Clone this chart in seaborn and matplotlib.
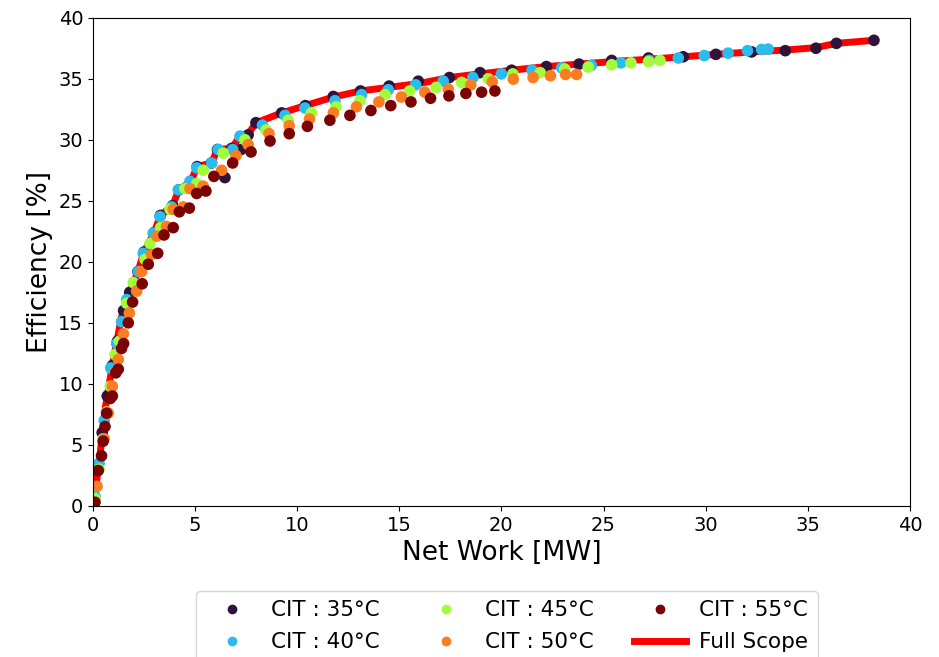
import matplotlib
matplotlib.use("Agg")
import matplotlib.pyplot as plt
import seaborn as sns
import pandas as pd
from matplotlib.lines import Line2D

# CIT 35 C
x35 = [0.05, 0.25, 0.45, 0.7, 0.95, 1.2, 1.5, 1.8, 2.2, 2.5, 3.0, 3.3, 3.9, 4.2, 4.8, 5.1,
       5.8, 6.1, 6.46, 6.8, 7.25, 7.6, 7.98, 9.24, 10.4, 11.77, 13.1, 14.5, 15.93, 17.45,
       18.95, 20.5, 22.2, 23.8, 25.4, 27.2, 28.9, 30.5, 32.25, 33.9, 35.4, 36.4, 38.24]
y35 = [0.5, 3.0, 6.0, 9.0, 11.5, 13.5, 16.0, 17.5, 19.2, 20.8, 22.4, 23.8, 24.6, 25.9, 26.6, 27.8,
       28.1, 29.2, 26.9, 29.3, 29.2, 30.4, 31.4, 32.2, 32.8, 33.55, 34.0, 34.4, 34.8, 35.1,
       35.5, 35.7, 36.0, 36.2, 36.5, 36.7, 36.8, 37.0, 37.2, 37.3, 37.5, 37.9, 38.15]
# CIT 40 C
x40 = [0.1, 0.3, 0.55, 0.87, 1.16, 1.4, 1.65, 2.22, 2.46, 2.95, 3.28, 3.85, 4.18, 4.75, 5.08,
       5.81, 6.13, 6.84, 7.2, 8.3, 9.4, 10.38, 11.85, 13.15, 14.46, 15.8, 17.15, 18.6, 20.0,
       21.5, 22.95, 24.4, 25.85, 27.24, 28.66, 29.93, 31.1, 32.05, 32.74, 33.06]
y40 = [0.8, 3.5, 7.0, 11.3, 13.3, 15.1, 16.9, 19.2, 20.7, 22.35, 23.7, 24.5, 25.9, 26.6, 27.7,
       28.1, 29.2, 29.2, 30.3, 31.2, 32.0, 32.6, 33.2, 33.7, 34.1, 34.5, 34.8, 35.1, 35.4,
       35.7, 35.9, 36.1, 36.3, 36.5, 36.7, 36.9, 37.1, 37.3, 37.4, 37.43]
# CIT 45 C
x45 = [0.1, 0.3, 0.5, 0.67, 0.85, 1.08, 1.3, 1.65, 1.97, 2.55, 2.79, 3.31, 3.77, 4.5, 5.08,
       5.4, 6.38, 7.44, 8.47, 9.56, 10.7, 11.9, 13.07, 14.3, 15.5, 16.8, 18.05, 19.35, 20.56,
       21.9, 23.1, 24.25, 25.4, 26.34, 27.2, 27.76]
y45 = [0.6, 3.0, 5.5, 7.7, 9.8, 12.4, 13.5, 16.6, 18.3, 20.2, 21.5, 22.8, 24.3, 26.0, 26.4,
       27.5, 28.9, 30.0, 30.8, 31.6, 32.2, 32.7, 33.2, 33.7, 34.0, 34.3, 34.7, 35.0, 35.4,
       35.5, 35.8, 35.96, 36.15, 36.3, 36.4, 36.5]
# CIT 50 C
x50 = [0.2, 0.55, 0.75, 0.95, 1.1, 1.24, 1.49, 1.78, 2.14, 2.38, 2.87, 3.12, 3.6, 3.93, 4.42,
       4.75, 5.4, 6.3, 7.0, 7.6, 8.62, 9.61, 10.6, 11.77, 12.9, 14.0, 15.1, 16.25, 17.4, 18.5,
       19.55, 20.58, 21.55, 22.4, 23.14, 23.68]
y50 = [1.6, 5.5, 7.6, 9.8, 11.0, 12.0, 14.1, 15.8, 17.6, 19.2, 20.6, 22.1, 22.9, 24.3, 24.5,
       26.0, 26.2, 27.5, 28.7, 29.6, 30.5, 31.15, 31.7, 32.2, 32.7, 33.1, 33.5, 33.9, 34.15, 34.5,
       34.75, 34.97, 35.1, 35.25, 35.35, 35.35]
# CIT 55 C
x55 = [0.1, 0.26, 0.42, 0.5, 0.59, 0.67, 0.85, 0.95, 1.12, 1.24, 1.4, 1.5, 1.73, 1.94, 2.41,
       2.71, 3.17, 3.48, 3.93, 4.23, 4.72, 5.08, 5.53, 5.92, 6.84, 7.74, 8.67, 9.61, 10.5, 11.6,
       12.58, 13.61, 14.58, 15.57, 16.53, 17.43, 18.26, 19.03, 19.68]
y55 = [0.3, 2.9, 4.1, 5.3, 6.5, 7.6, 8.8, 9.0, 10.9, 11.2, 12.9, 13.3, 15.0, 16.7, 18.2,
       19.8, 20.7, 22.2, 22.8, 24.1, 24.4, 25.6, 25.8, 27.0, 28.1, 29.0, 29.9, 30.5, 31.1, 31.6,
       32.0, 32.4, 32.8, 33.1, 33.4, 33.6, 33.8, 33.9, 34.0]
# Full Scope envelope
x_full = [0, 0.3, 0.6, 1.0, 1.4, 1.7, 2.2, 2.5, 3.0, 3.3, 3.9, 4.2, 4.8, 5.1, 5.8, 6.1, 6.8,
          7.2, 7.6, 8.0, 9.24, 10.4, 11.77, 13.1, 14.5, 15.93, 17.45, 18.95, 20.5, 22.2, 23.8,
          25.4, 27.2, 28.9, 30.5, 32.25, 33.9, 35.4, 36.4, 38.24]
y_full = [0, 3.5, 8.0, 12.0, 15.5, 17.0, 19.2, 20.8, 22.4, 23.8, 24.6, 25.9, 26.6, 27.8, 28.1,
          29.2, 29.3, 30.3, 30.5, 31.4, 32.2, 32.8, 33.5, 34.0, 34.3, 34.6, 35.1, 35.4, 35.7,
          36.0, 36.2, 36.4, 36.6, 36.8, 37.0, 37.2, 37.35, 37.55, 37.9, 38.15]

labels = ["CIT : 35°C", "CIT : 40°C", "CIT : 45°C", "CIT : 50°C", "CIT : 55°C"]
colors = ["#30123b", "#2abced", "#a2fc3c", "#fa7d22", "#7a0403"]
xs = [x35, x40, x45, x50, x55]
ys = [y35, y40, y45, y50, y55]

frames = []
for lab, x, y in zip(labels, xs, ys):
    frames.append(pd.DataFrame({"net_work": x, "eff": y, "cit": lab}))
df = pd.concat(frames, ignore_index=True)
full = pd.DataFrame({"net_work": x_full, "eff": y_full})

fig, ax = plt.subplots(figsize=(9.39, 6.57), dpi=100)
fig.subplots_adjust(left=0.099, right=0.969, top=0.973, bottom=0.230)

sns.lineplot(data=full, x="net_work", y="eff", color="red", linewidth=5, sort=False,
             ax=ax, zorder=1, legend=False)
sns.scatterplot(data=df, x="net_work", y="eff", hue="cit", palette=dict(zip(labels, colors)),
                s=70, linewidth=0, ax=ax, zorder=2, legend=False)

ax.set_xlim(0, 40)
ax.set_ylim(0, 40)
ax.set_xlabel("Net Work [MW]", fontsize=19)
ax.set_ylabel("Efficiency [%]", fontsize=19)
ax.tick_params(labelsize=14)

handles = [Line2D([], [], marker="o", linestyle="", color=c, markersize=6) for c in colors]
handles.append(Line2D([], [], color="red", linewidth=5))
fig.legend(handles, labels + ["Full Scope"], loc="upper center", bbox_to_anchor=(0.540, 0.101),
           ncol=3, fontsize=15.5, handlelength=2.4, handletextpad=0.6, columnspacing=1.9,
           labelspacing=0.55, borderpad=0.45, borderaxespad=0)

fig.savefig("out.png", dpi=100)
